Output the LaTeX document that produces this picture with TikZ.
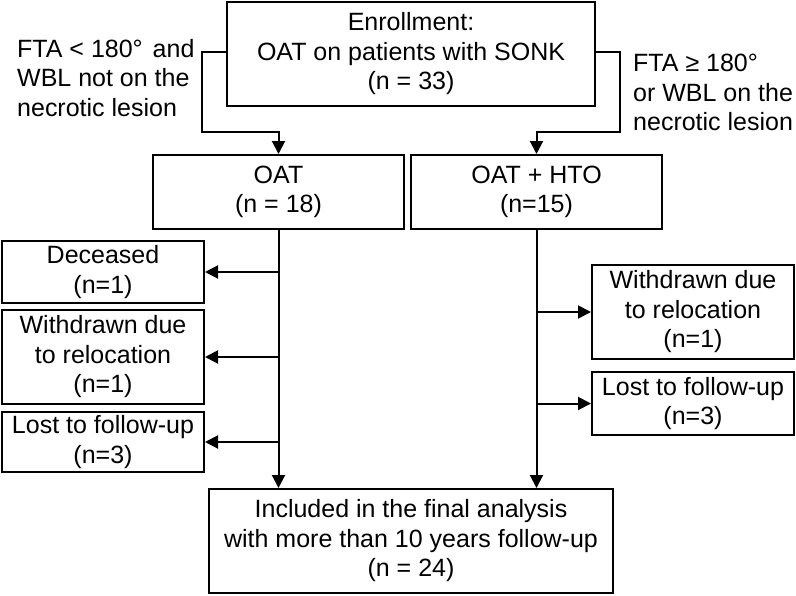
\documentclass[tikz,border=0pt]{standalone}
\usepackage{fontspec}
\setmainfont{Liberation Sans}
\usetikzlibrary{arrows.meta}
\begin{document}
\begin{tikzpicture}[x=1pt,y=-1pt,
  every node/.style={font=\fontsize{25}{29.5}\selectfont},
  box/.style={draw,line width=2pt,align=center,inner sep=0pt},
  lbl/.style={align=left,inner sep=0pt,anchor=north west},
  arr/.style={line width=2pt,-{Triangle[length=13pt,width=13pt]}}]
\useasboundingbox (0,0) rectangle (796,595);
% boxes
\node[box,minimum width=368pt,minimum height=104pt] (enroll) at (411,54) {Enrollment:\\OAT on patients with SONK\\(n = 33)};
\node[box,minimum width=251pt,minimum height=74pt] (oat) at (278.5,192) {OAT\\(n = 18)};
\node[box,minimum width=251pt,minimum height=74pt] (hto) at (536.5,192) {OAT + HTO\\(n=15)};
\node[box,minimum width=202pt,minimum height=62pt] (dec) at (103,272) {Deceased\\(n=1)};
\node[box,minimum width=202pt,minimum height=94pt] (wdl) at (103,357) {Withdrawn due\\to relocation\\(n=1)};
\node[box,minimum width=202pt,minimum height=60pt] (lostl) at (103,442) {Lost to follow-up\\(n=3)};
\node[box,minimum width=202pt,minimum height=94pt] (wdr) at (693,312) {Withdrawn due\\to relocation\\(n=1)};
\node[box,minimum width=202pt,minimum height=63pt] (lostr) at (693,403.5) {Lost to follow-up\\(n=3)};
\node[box,minimum width=404pt,minimum height=104pt] (final) at (411,541) {Included in the final analysis\\with more than 10 years follow-up\\(n = 24)};
% labels
\node[lbl] (ll) at (17,39) {FTA < 180°\hspace{10pt}and\\WBL not on the\\necrotic lesion};
\node[lbl] (rl) at (633,54) {FTA ≥ 180°\\or WBL on the\\necrotic lesion};
% coordinates
\coordinate (lk1) at (202,52);
\coordinate (lk2) at (202,132);
\coordinate (rk1) at (620,52);
\coordinate (rk2) at (620,132);
% connectors
\draw[arr] (enroll.west |- lk1) -- (lk1) -- (lk2) -- (lk2 -| oat.north) -- (oat.north);
\draw[arr] (enroll.east |- rk1) -- (rk1) -- (rk2) -- (rk2 -| hto.north) -- (hto.north);
\draw[arr] (oat.south) -- (final.north -| oat.south);
\draw[arr] (hto.south) -- (final.north -| hto.south);
\draw[arr] (oat.south |- dec.east) -- (dec.east);
\draw[arr] (oat.south |- wdl.east) -- (wdl.east);
\draw[arr] (oat.south |- lostl.east) -- (lostl.east);
\draw[arr] (hto.south |- wdr.west) -- (wdr.west);
\draw[arr] (hto.south |- lostr.west) -- (lostr.west);
\end{tikzpicture}
\end{document}
